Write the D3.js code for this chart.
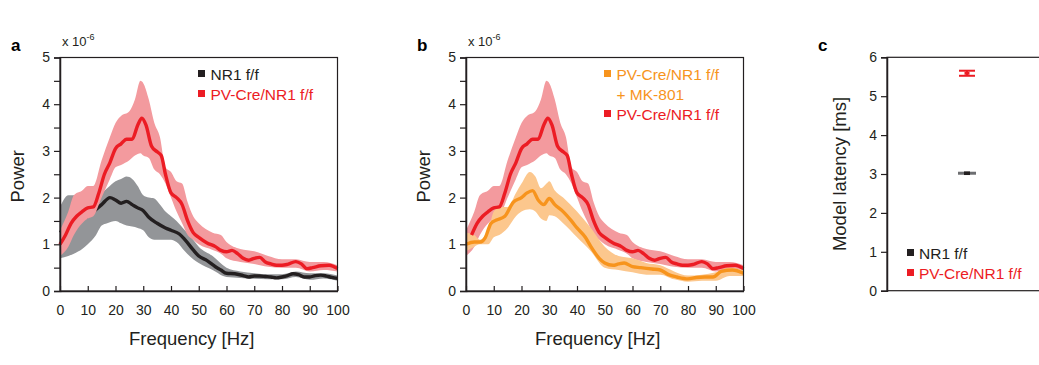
<!DOCTYPE html>
<html>
<head>
<meta charset="utf-8">
<script src="https://cdn.jsdelivr.net/npm/d3@7"></script>
<style>
  body { margin: 0; background: #fff; }
  svg { display: block; font-family: "Liberation Sans", Arial, sans-serif; }
</style>
</head>
<body>
<div id="chart"></div>
<script>
// ---- data (power in units of 1e-6) ----
const nrFreq = [0,2,5,8,10,12,15,18,20,22,24,26,28,30,32,35,38,40,43,45,48,50,53,56,58,60,63,66,68,70,72,74,76,78,80,82,84,86,88,90,92,94,96,98,100];
const nrMean = [1.25,1.35,1.45,1.55,1.6,1.7,1.85,2.0,1.95,1.88,1.92,1.85,1.78,1.72,1.58,1.45,1.35,1.3,1.22,1.1,0.88,0.75,0.65,0.52,0.45,0.38,0.37,0.33,0.3,0.32,0.32,0.31,0.3,0.28,0.3,0.33,0.37,0.35,0.3,0.3,0.33,0.34,0.32,0.29,0.27];
const nrBandFreq = [0,3,5,8,10,13,15,17,20,22,24,26,28,30,32,34,36,38,40,42,45,48,50,55,60,65,70,75,80,85,90,95,100];
const nrUpper = [1.8,2.05,2.05,2.0,2.0,2.05,2.1,2.2,2.35,2.4,2.45,2.4,2.25,2.05,2.0,1.98,1.85,1.7,1.6,1.5,1.3,1.1,0.95,0.75,0.5,0.42,0.38,0.36,0.36,0.42,0.38,0.38,0.33];
const nrLower = [0.7,0.75,0.8,0.9,1.0,1.2,1.4,1.45,1.5,1.45,1.4,1.38,1.35,1.3,1.15,1.1,1.1,1.1,1.1,1.05,0.85,0.68,0.6,0.45,0.3,0.28,0.26,0.25,0.25,0.3,0.24,0.27,0.22];

const pvFreq = [0,2,4,6,8,10,12,14,16,18,20,22,24,26,28,29.5,31,33,35,36.5,38,40,42,44,46,48,50,53,56,58,60,62,64,66,68,70,72,74,76,78,80,82,85,87,89,91,94,97,100];
const pvMean = [1.0,1.2,1.45,1.6,1.7,1.78,1.8,2.1,2.5,2.75,3.05,3.15,3.25,3.25,3.55,3.7,3.55,3.1,2.98,2.9,2.5,2.1,2.0,1.85,1.5,1.25,1.15,1.03,0.95,0.87,0.84,0.87,0.8,0.7,0.66,0.7,0.72,0.62,0.58,0.55,0.55,0.57,0.63,0.58,0.48,0.5,0.54,0.55,0.48];
const pvBandFreq = [0,3,5,8,10,12,15,18,20,22,25,27,29,30,32,34,36,38,40,42,44,46,48,50,55,58,60,65,70,75,80,85,90,95,100];
const pvUpper = [1.3,1.7,2.05,2.15,2.25,2.25,2.8,3.3,3.6,3.75,3.85,4.1,4.5,4.45,4.1,3.6,3.3,2.65,2.55,2.35,2.3,1.9,1.6,1.45,1.25,1.2,1.05,0.9,0.85,0.75,0.68,0.68,0.62,0.62,0.55];
const pvLower = [0.75,0.95,1.2,1.45,1.55,1.6,2.0,2.4,2.65,2.7,2.8,2.9,2.95,2.9,2.85,2.6,2.5,2.3,2.0,1.7,1.45,1.2,1.1,1.0,0.88,0.8,0.7,0.62,0.58,0.52,0.5,0.5,0.42,0.45,0.42];

const mkFreq = [0,3,5,7,9,11,14,17,20,22,24,26,28,30,32,35,38,40,43,45,48,50,53,55,57,60,63,67,70,73,76,80,83,86,89,92,96,100];
const mkMean = [1.0,1.05,1.05,1.15,1.45,1.52,1.6,1.9,2.0,2.1,2.15,1.95,1.85,1.98,1.85,1.7,1.5,1.35,1.15,0.95,0.7,0.6,0.55,0.58,0.6,0.52,0.5,0.47,0.45,0.35,0.3,0.26,0.29,0.3,0.3,0.42,0.45,0.38];
const mkBandFreq = [0,3,5,8,10,12,15,18,20,23,25,27,29,30,32,35,40,45,50,55,60,65,70,75,80,85,90,95,100];
const mkUpper = [1.25,1.2,1.1,1.3,1.7,1.8,1.8,2.1,2.3,2.55,2.45,2.2,2.3,2.35,2.15,2.0,1.7,1.35,0.95,0.75,0.7,0.6,0.55,0.42,0.33,0.35,0.4,0.5,0.45];
const mkLower = [0.85,0.95,1.0,1.0,1.15,1.2,1.35,1.6,1.7,1.75,1.7,1.55,1.5,1.62,1.6,1.45,1.15,0.85,0.5,0.45,0.4,0.35,0.35,0.25,0.2,0.22,0.22,0.32,0.32];

const latencyGroups = ["NR1 f/f", "PV-Cre/NR1 f/f"];
const latencyMean = [3.02, 5.59];
const latencyErr = [0.02, 0.065];

const freqTicks = [0,10,20,30,40,50,60,70,80,90,100];

// ---- colours ----
const C = {
  axis: "#231f20",
  black: "#231f20", gray: "#939598",
  red: "#ec1c24", pink: "#f39a9e",
  orange: "#f7941d", peach: "#fcc78d"
};

const W = 1039, H = 365;
const svg = d3.select("#chart").append("svg")
  .attr("width", W).attr("height", H);

const zip = (xs, ys) => xs.map((x, i) => ({ x: x, y: ys[i] }));
const zipBand = (xs, lo, hi) => xs.map((x, i) => ({ x: x, lo: lo[i], hi: hi[i] }));

function spectrumPanel(opt) {
  const g = svg.append("g");
  const x = d3.scaleLinear().domain([0, 100]).range([opt.left, opt.right]);
  const y = d3.scaleLinear().domain([0, 5]).range([291, 57.5]);

  const area = d3.area().curve(d3.curveMonotoneX)
    .x(d => x(d.x)).y0(d => y(d.lo)).y1(d => y(d.hi));
  const line = d3.line().curve(d3.curveMonotoneX)
    .x(d => x(d.x)).y(d => y(d.y));

  // layers, in drawing order
  opt.layers.forEach(l => {
    if (l.band) {
      g.append("path").datum(l.band).attr("d", area).attr("fill", l.color);
    } else {
      g.append("path").datum(l.line).attr("d", line)
        .attr("fill", "none").attr("stroke", l.color)
        .attr("stroke-width", 3.4).attr("stroke-linejoin", "round");
    }
  });

  // frame
  g.append("rect")
    .attr("x", x(0)).attr("y", y(5))
    .attr("width", x(100) - x(0)).attr("height", y(0) - y(5))
    .attr("fill", "none").attr("stroke", C.axis).attr("stroke-width", 1.2);

  // axes
  const xa = g.append("g").attr("transform", `translate(0,${y(0)})`)
    .call(d3.axisBottom(x).tickValues(freqTicks).tickSizeInner(-5).tickSizeOuter(0).tickPadding(14));
  const ya = g.append("g").attr("transform", `translate(${x(0)},0)`)
    .call(d3.axisLeft(y).tickValues(d3.range(0, 5.01, 0.5)).tickSize(6).tickPadding(4)
      .tickFormat(d => Number.isInteger(d) ? d : ""));
  [xa, ya].forEach(a => {
    a.select(".domain").attr("stroke", C.axis).attr("stroke-width", 1.5);
    a.selectAll(".tick line").attr("stroke", C.axis).attr("stroke-width", 1.2);
    a.selectAll("text").attr("fill", C.axis).style("font-size", "14px")
      .style("font-family", "Liberation Sans, Arial, sans-serif");
  });

  // exponent
  const ex = g.append("text").attr("x", x(0) + 2).attr("y", 46)
    .attr("fill", C.axis).style("font-size", "13px");
  ex.append("tspan").text("x 10");
  ex.append("tspan").attr("dy", -6).style("font-size", "9px").text("-6");

  // titles
  g.append("text").attr("x", opt.left - 49).attr("y", 51)
    .style("font-size", "17px").style("font-weight", "bold").attr("fill", "#000")
    .text(opt.letter);
  g.append("text")
    .attr("transform", `translate(${opt.left - 36},${(y(0) + y(5)) / 2 + 2}) rotate(-90)`)
    .attr("text-anchor", "middle").attr("fill", C.axis)
    .style("font-size", "18.5px").text("Power");
  g.append("text").attr("x", (x(0) + x(100)) / 2 - 7).attr("y", 345)
    .attr("text-anchor", "middle").attr("fill", C.axis)
    .style("font-size", "18.5px").text("Frequency [Hz]");

  // legend
  opt.legend.forEach(it => {
    if (it.swatch) {
      g.append("rect").attr("x", opt.legX).attr("y", it.y - 10)
        .attr("width", 7).attr("height", 7).attr("fill", it.color);
    }
    g.append("text").attr("x", opt.legX + 12.5).attr("y", it.y)
      .attr("fill", it.color).style("font-size", "15.5px").text(it.text);
  });
}

// panel a
spectrumPanel({
  letter: "a", left: 60, right: 337.5, legX: 198,
  layers: [
    { band: zipBand(nrBandFreq, nrLower, nrUpper), color: C.gray },
    { line: zip(nrFreq, nrMean), color: C.black },
    { band: zipBand(pvBandFreq, pvLower, pvUpper), color: C.pink },
    { line: zip(pvFreq, pvMean), color: C.red }
  ],
  legend: [
    { text: "NR1 f/f", color: C.black, y: 80, swatch: true },
    { text: "PV-Cre/NR1 f/f", color: C.red, y: 100, swatch: true }
  ]
});

// panel b
spectrumPanel({
  letter: "b", left: 466, right: 743.5, legX: 604,
  layers: [
    { band: zipBand(pvBandFreq, pvLower, pvUpper), color: C.pink },
    { band: zipBand(mkBandFreq, mkLower, mkUpper), color: C.peach },
    { line: zip(mkFreq, mkMean), color: C.orange },
    { line: zip(pvFreq.slice(1), pvMean.slice(1)), color: C.red }
  ],
  legend: [
    { text: "PV-Cre/NR1 f/f", color: C.orange, y: 80, swatch: true },
    { text: "+ MK-801", color: C.orange, y: 100, swatch: false },
    { text: "PV-Cre/NR1 f/f", color: C.red, y: 120, swatch: true }
  ]
});

// panel c
(function latencyPanel() {
  const g = svg.append("g");
  const left = 887, right = 1047;
  const x = d3.scaleLinear().domain([0, 1]).range([left, right]);
  const y = d3.scaleLinear().domain([0, 6]).range([290.7, 57.3]);
  const colors = [C.black, C.red];

  g.append("rect").attr("x", left).attr("y", y(6))
    .attr("width", right - left).attr("height", y(0) - y(6))
    .attr("fill", "none").attr("stroke", C.axis).attr("stroke-width", 1.2);

  const ya = g.append("g").attr("transform", `translate(${left},0)`)
    .call(d3.axisLeft(y).ticks(6).tickSize(6).tickPadding(4).tickFormat(d3.format("d")));
  ya.select(".domain").attr("stroke", C.axis).attr("stroke-width", 1.5);
  ya.selectAll(".tick line").attr("stroke", C.axis).attr("stroke-width", 1.2);
  ya.selectAll("text").attr("fill", C.axis).style("font-size", "14px")
    .style("font-family", "Liberation Sans, Arial, sans-serif");

  g.append("text").attr("x", 818).attr("y", 51)
    .style("font-size", "17px").style("font-weight", "bold").text("c");
  g.append("text")
    .attr("transform", `translate(846,${(y(0) + y(6)) / 2}) rotate(-90)`)
    .attr("text-anchor", "middle").attr("fill", C.axis)
    .style("font-size", "18.5px").text("Model latency [ms]");

  const cx = x(0.5);
  latencyGroups.forEach((name, i) => {
    const col = colors[i];
    const hi = y(latencyMean[i] + latencyErr[i]), lo = y(latencyMean[i] - latencyErr[i]);
    if (i === 0) {
      g.append("line").attr("x1", cx - 9).attr("x2", cx + 9)
        .attr("y1", y(latencyMean[i])).attr("y2", y(latencyMean[i]))
        .attr("stroke", "#6d6e71").attr("stroke-width", 3);
      g.append("rect").attr("x", cx - 3).attr("y", y(latencyMean[i]) - 1.8)
        .attr("width", 6).attr("height", 3.6).attr("fill", C.black);
    } else {
      g.append("line").attr("x1", cx).attr("x2", cx).attr("y1", hi).attr("y2", lo)
        .attr("stroke", col).attr("stroke-width", 2);
      [hi, lo].forEach(v => g.append("line").attr("x1", cx - 8).attr("x2", cx + 8)
        .attr("y1", v).attr("y2", v).attr("stroke", col).attr("stroke-width", 2));
      g.append("rect").attr("x", cx - 2.5).attr("y", y(latencyMean[i]) - 1.5)
        .attr("width", 5).attr("height", 3).attr("fill", col);
    }
  });

  const legY = [259, 279];
  latencyGroups.forEach((name, i) => {
    g.append("rect").attr("x", 907).attr("y", legY[i] - 10)
      .attr("width", 7).attr("height", 7).attr("fill", colors[i]);
    g.append("text").attr("x", 919).attr("y", legY[i])
      .attr("fill", colors[i]).style("font-size", "15.5px").text(name);
  });
})();
</script>
</body>
</html>
